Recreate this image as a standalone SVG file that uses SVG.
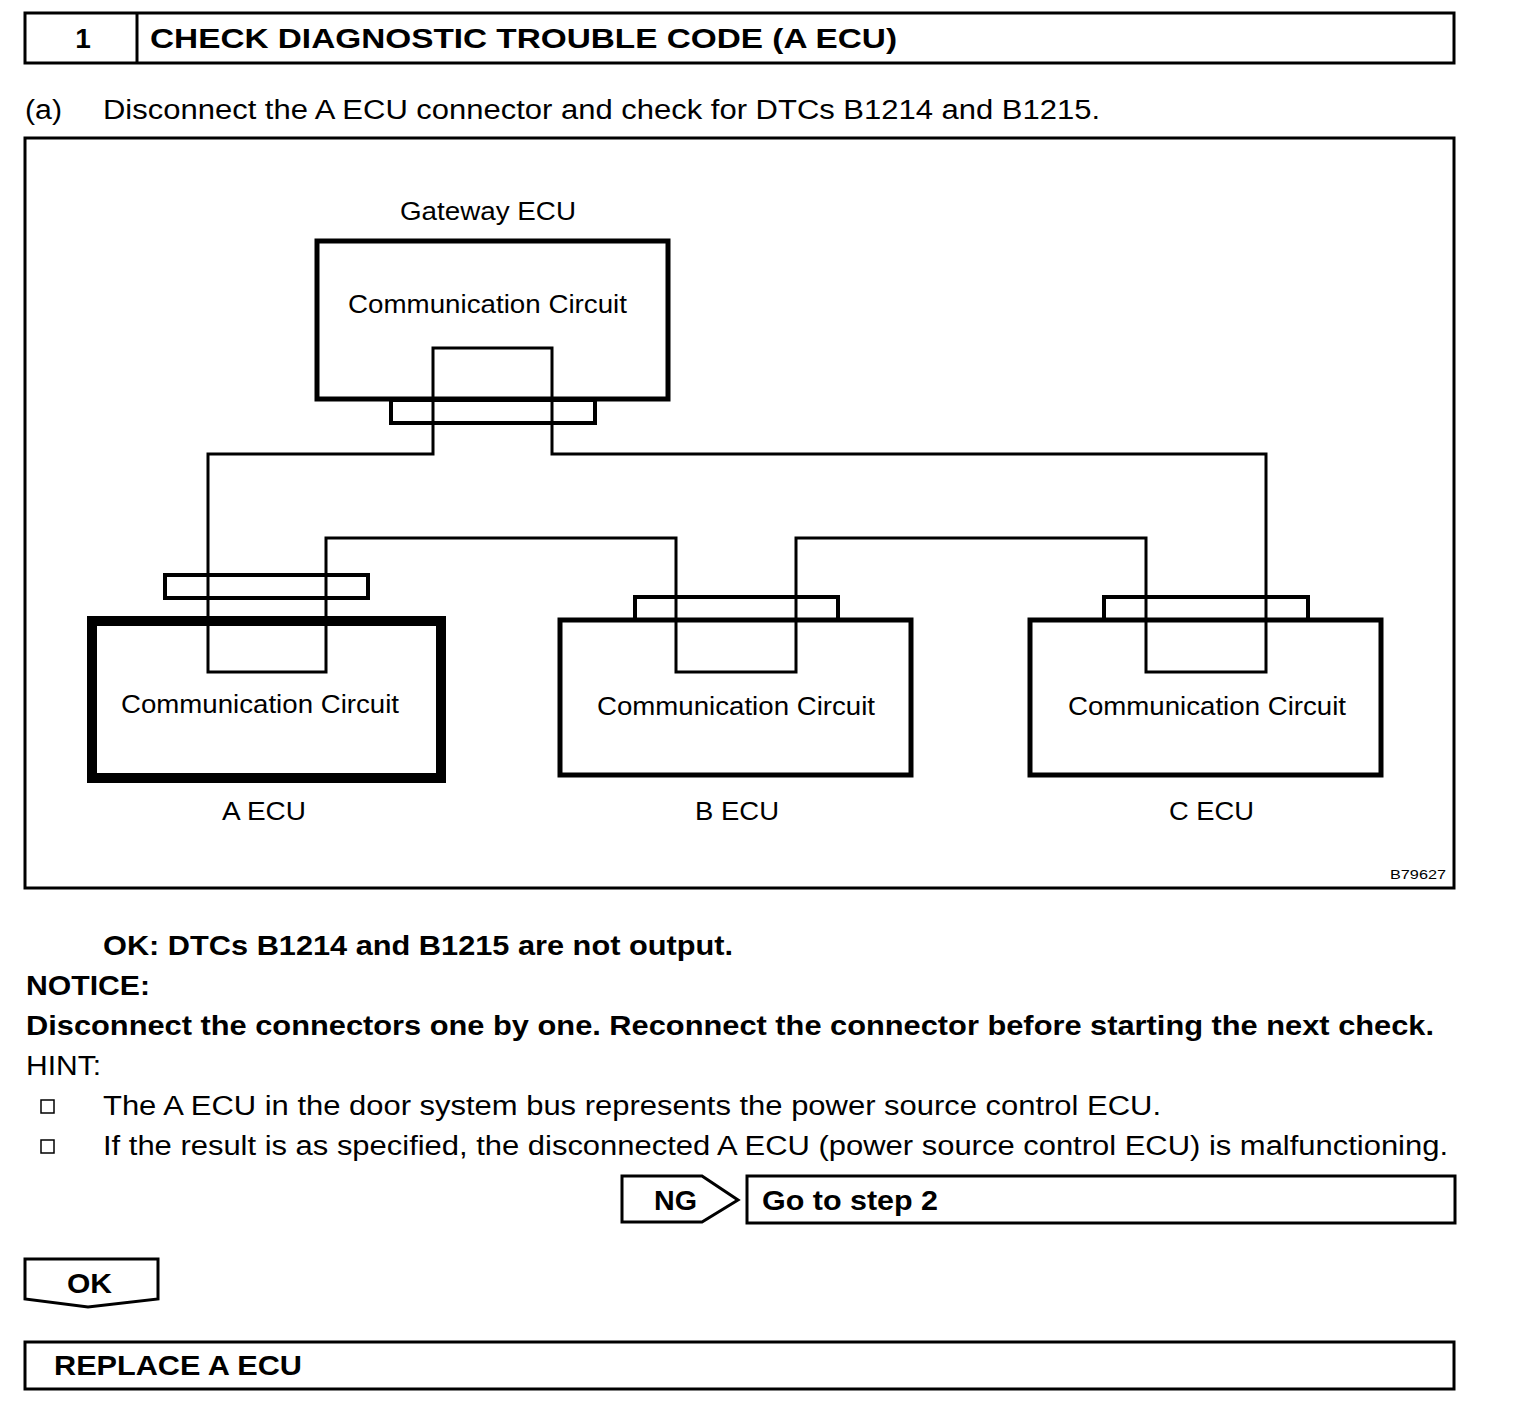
<svg xmlns="http://www.w3.org/2000/svg" width="1520" height="1414" viewBox="0 0 1520 1414">
<style>
text{font-family:"Liberation Sans",Arial,sans-serif;fill:#000}
.b{font-weight:bold;font-size:28px}
.r{font-size:27px}
.c{font-size:26px}
.box{fill:none;stroke:#000;stroke-width:3}
.ecu{fill:#fff;stroke:#000;stroke-width:5}
.con{fill:#fff;stroke:#000;stroke-width:4}
.wire{fill:none;stroke:#000;stroke-width:3}
</style>
<rect width="1520" height="1414" fill="#fff"/>
<g id="header">
<rect class="box" x="25" y="13" width="1429" height="50"/>
<line x1="137" y1="13" x2="137" y2="63" stroke="#000" stroke-width="3"/>
<text class="b" x="83" y="48" text-anchor="middle">1</text>
<text class="b" x="150" y="48" textLength="747" lengthAdjust="spacingAndGlyphs">CHECK DIAGNOSTIC TROUBLE CODE (A ECU)</text>
</g>
<text class="r" x="25" y="119" textLength="37" lengthAdjust="spacingAndGlyphs">(a)</text>
<text class="r" x="103" y="119" textLength="997" lengthAdjust="spacingAndGlyphs">Disconnect the A ECU connector and check for DTCs B1214 and B1215.</text>
<g id="frame">
<rect class="box" x="25" y="138" width="1429" height="750"/>
<text x="1390" y="879" font-size="13" textLength="56" lengthAdjust="spacingAndGlyphs">B79627</text>
</g>
<g id="gateway">
<text class="c" x="400" y="220" textLength="176" lengthAdjust="spacingAndGlyphs">Gateway ECU</text>
<rect class="ecu" x="317" y="241" width="351" height="158"/>
<rect class="con" x="391" y="400" width="204" height="23"/>
<text class="c" x="348" y="313" textLength="279" lengthAdjust="spacingAndGlyphs">Communication Circuit</text>
</g>
<g id="a-ecu">
<rect class="con" x="165" y="575" width="203" height="23"/>
<rect x="92" y="621" width="349" height="157" fill="#fff" stroke="#000" stroke-width="10"/>
<text class="c" x="121" y="713" textLength="278" lengthAdjust="spacingAndGlyphs">Communication Circuit</text>
<text class="c" x="222" y="820" textLength="84" lengthAdjust="spacingAndGlyphs">A ECU</text>
</g>
<g id="b-ecu">
<rect class="con" x="635" y="597" width="203" height="23"/>
<rect class="ecu" x="560" y="620" width="351" height="155"/>
<text class="c" x="597" y="715" textLength="278" lengthAdjust="spacingAndGlyphs">Communication Circuit</text>
<text class="c" x="695" y="820" textLength="84" lengthAdjust="spacingAndGlyphs">B ECU</text>
</g>
<g id="c-ecu">
<rect class="con" x="1104" y="597" width="204" height="23"/>
<rect class="ecu" x="1030" y="620" width="351" height="155"/>
<text class="c" x="1068" y="715" textLength="278" lengthAdjust="spacingAndGlyphs">Communication Circuit</text>
<text class="c" x="1169" y="820" textLength="85" lengthAdjust="spacingAndGlyphs">C ECU</text>
</g>
<g id="connectors">
<path class="wire" d="M433 454 V348 H552 V454 H1266 V672 H1146 V538 H796 V672 H676 V538 H326 V672 H208 V454 Z"/>
</g>
<text class="b" x="103" y="955" textLength="630" lengthAdjust="spacingAndGlyphs">OK: DTCs B1214 and B1215 are not output.</text>
<text class="b" x="26" y="995" textLength="124" lengthAdjust="spacingAndGlyphs">NOTICE:</text>
<text class="b" x="26" y="1035" textLength="1408" lengthAdjust="spacingAndGlyphs">Disconnect the connectors one by one. Reconnect the connector before starting the next check.</text>
<text class="r" x="26" y="1075" textLength="75" lengthAdjust="spacingAndGlyphs">HINT:</text>
<rect x="41" y="1100" width="13" height="13" fill="none" stroke="#000" stroke-width="1.5"/>
<text class="r" x="103" y="1115" textLength="1058" lengthAdjust="spacingAndGlyphs">The A ECU in the door system bus represents the power source control ECU.</text>
<rect x="41" y="1140" width="13" height="13" fill="none" stroke="#000" stroke-width="1.5"/>
<text class="r" x="103" y="1155" textLength="1345" lengthAdjust="spacingAndGlyphs">If the result is as specified, the disconnected A ECU (power source control ECU) is malfunctioning.</text>
<g id="ng">
<path class="box" d="M622 1176 H702 L738 1200 L702 1222 H622 Z"/>
<text class="b" x="654" y="1210" textLength="43" lengthAdjust="spacingAndGlyphs">NG</text>
</g>
<g id="step2">
<rect class="box" x="747" y="1176" width="708" height="47"/>
<text class="b" x="762" y="1210" textLength="176" lengthAdjust="spacingAndGlyphs">Go to step 2</text>
</g>
<g id="ok">
<path class="box" d="M25 1259 H158 V1299 L88 1307 L25 1299 Z"/>
<text class="b" x="67" y="1293" textLength="45" lengthAdjust="spacingAndGlyphs">OK</text>
</g>
<g id="replace">
<rect class="box" x="25" y="1342" width="1429" height="47"/>
<text class="b" x="54" y="1375" textLength="248" lengthAdjust="spacingAndGlyphs">REPLACE A ECU</text>
</g>
</svg>
